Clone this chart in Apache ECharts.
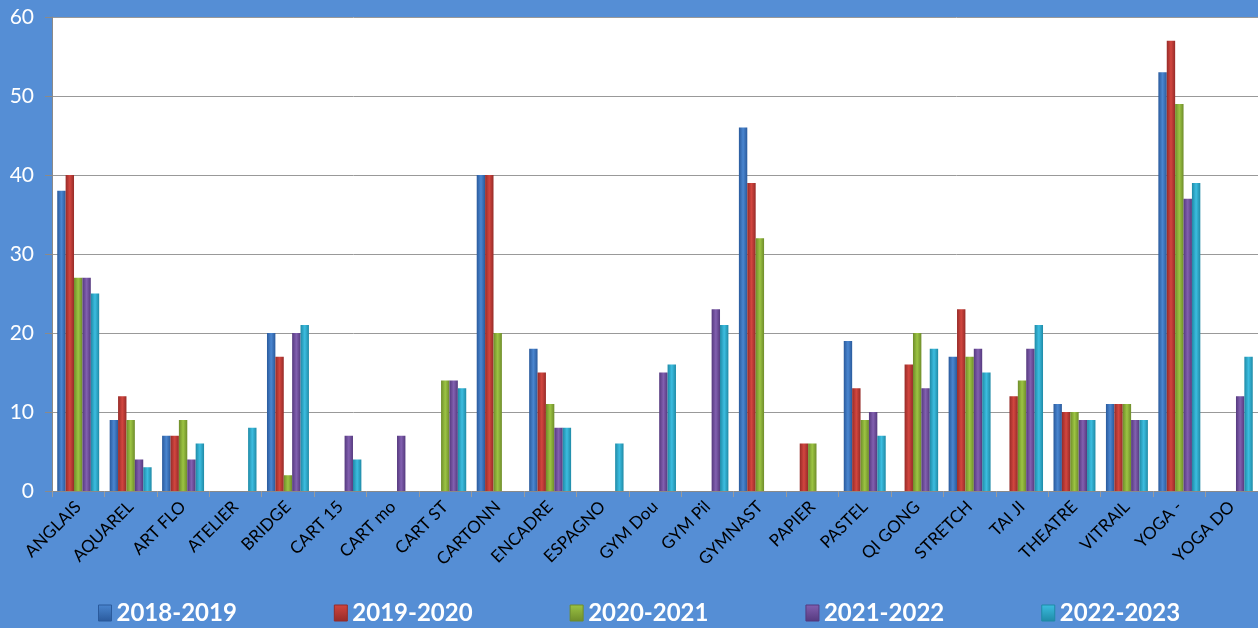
<!DOCTYPE html>
<html>
<head>
<meta charset="utf-8">
<script src="https://cdn.jsdelivr.net/npm/echarts@6/dist/echarts.min.js"></script>
<style>
html, body { margin: 0; padding: 0; background: #558ed5; }
#chart { width: 1258px; height: 628px; }
</style>
</head>
<body>
<div id="chart"></div>
<script>
var categories = ['ANGLAIS', 'AQUAREL', 'ART FLO', 'ATELIER', 'BRIDGE', 'CART 15', 'CART mo', 'CART ST',
    'CARTONN', 'ENCADRE', 'ESPAGNO', 'GYM Dou', 'GYM Pil', 'GYMNAST', 'PAPIER', 'PASTEL', 'QI GONG',
    'STRETCH', 'TAI JI', 'THEATRE', 'VITRAIL', 'YOGA -', 'YOGA DO'];
var seriesNames = ['2018-2019', '2019-2020', '2020-2021', '2021-2022', '2022-2023'];
var y2018 = [38, 9, 7, null, 20, null, null, null, 40, 18, null, null, null, 46, null, 19, null, 17, null, 11, 11, 53, null];
var y2019 = [40, 12, 7, null, 17, null, null, null, 40, 15, null, null, null, 39, 6, 13, 16, 23, 12, 10, 11, 57, null];
var y2020 = [27, 9, 9, null, 2, null, null, 14, 20, 11, null, null, null, 32, 6, 9, 20, 17, 14, 10, 11, 49, null];
var y2021 = [27, 4, 4, null, 20, 7, 7, 14, null, 8, null, 15, 23, null, null, 10, 13, 18, 18, 9, 9, 37, 12];
var y2022 = [25, 3, 6, 8, 21, 4, null, 13, null, 8, 6, 16, 21, null, null, 7, 18, 15, 21, 9, 9, 39, 17];
var yTicks = [0, 10, 20, 30, 40, 50, 60];

var seriesData = [y2018, y2019, y2020, y2021, y2022];
// dark edge, light middle : pseudo 3D look
var colorPairs = [
    ['#2a5a9c', '#4a86d0'],
    ['#962b28', '#d2463f'],
    ['#6e8c2a', '#9cc443'],
    ['#55397e', '#8260b0'],
    ['#1f8aa6', '#3cbde0']
];

var myChart = echarts.init(document.getElementById('chart'));

var series = [];
var legendData = [];
for (var i = 0; i < seriesNames.length; i++) {
    series.push({
        name: seriesNames[i],
        type: 'bar',
        data: seriesData[i],
        barGap: '0%',
        barCategoryGap: '20%',
        itemStyle: {
            color: new echarts.graphic.LinearGradient(0, 0, 1, 0, [
                {offset: 0, color: colorPairs[i][0]},
                {offset: 0.5, color: colorPairs[i][1]},
                {offset: 1, color: colorPairs[i][0]}
            ]),
            shadowColor: 'rgba(0,0,0,0.25)',
            shadowBlur: 2,
            shadowOffsetX: 1
        }
    });
    legendData.push({
        name: seriesNames[i],
        itemStyle: {
            color: new echarts.graphic.LinearGradient(0, 0, 0, 1, [
                {offset: 0, color: colorPairs[i][1]},
                {offset: 1, color: colorPairs[i][0]}
            ]),
            borderColor: colorPairs[i][0],
            borderWidth: 1
        }
    });
}

var option = {
    backgroundColor: '#558ed5',
    grid: {
        left: 52,
        right: 0,
        top: 17,
        bottom: 137,
        show: true,
        backgroundColor: '#ffffff',
        borderWidth: 0
    },
    legend: {
        data: legendData,
        bottom: -2,
        left: 93,
        itemWidth: 13,
        itemHeight: 16,
        itemGap: 97,
        icon: 'rect',
        textStyle: {
            color: '#ffffff',
            fontSize: 24,
            fontWeight: 'bold',
            fontFamily: 'Lato'
        }
    },
    xAxis: {
        type: 'category',
        data: categories,
        axisLine: {lineStyle: {color: '#8a8a8a'}},
        axisTick: {show: true, length: 6, lineStyle: {color: '#9a9a9a'}},
        axisLabel: {
            interval: 0,
            rotate: 45,
            margin: 13,
            color: '#000000',
            fontSize: 17,
            fontFamily: 'Lato'
        }
    },
    yAxis: {
        type: 'value',
        min: yTicks[0],
        max: yTicks[yTicks.length - 1],
        interval: 10,
        axisLine: {show: true, lineStyle: {color: '#8a8a8a'}},
        axisTick: {show: true, length: 7, lineStyle: {color: '#8a8a8a'}},
        splitLine: {lineStyle: {color: '#999999', width: 1}},
        axisLabel: {
            color: '#ffffff',
            fontSize: 21,
            fontFamily: 'Lato',
            margin: 18
        }
    },
    series: series
};

myChart.setOption(option);
</script>
</body>
</html>
